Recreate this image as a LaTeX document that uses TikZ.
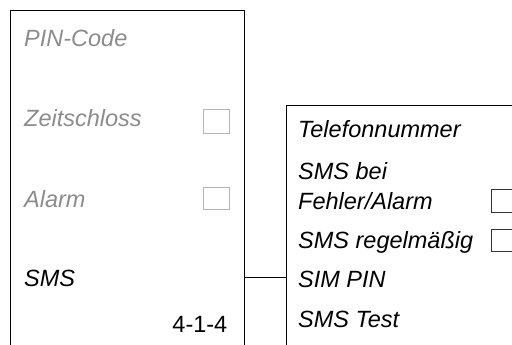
\documentclass[tikz,border=0pt]{standalone}
\usepackage{fontspec}
\setmainfont{Liberation Sans}
\definecolor{menugrey}{HTML}{8C8C8C}
\definecolor{boxgrey}{HTML}{B4B4B4}
\newcommand{\menufont}{\fontsize{23.5}{27}\selectfont}
\tikzset{
    entry/.style = {anchor = base west, inner sep = 0pt, font = \menufont\itshape},
    inactive/.style = {entry, text = menugrey},
    tickbox/.style = {draw = #1, line width = 1pt, minimum width = 25.5pt, anchor = north west, inner sep = 0pt},
}
\begin{document}
\begin{tikzpicture}[x = 1pt, y = -1pt, font = \menufont]
        \useasboundingbox (0, 0) rectangle (512, 345);
        % menu 4-1
        \draw[line width = 1pt] (10, 345) -- (10, 11) -- (244.5, 11) -- (244.5, 345);
        \node[inactive] (pin) at (24, 47) {PIN-Code};
        \node[inactive] (zeit) at (24, 127) {Zeitschloss};
        \node[inactive] (alarm) at (24, 207) {Alarm};
        \node[entry] (sms) at (24, 286) {SMS};
        \node[anchor = base east, inner sep = 0pt] (code) at (227.5, 332) {4-1-4};
        \node[tickbox = boxgrey, minimum height = 24pt] (zeitbox) at (203, 109.5) {};
        \node[tickbox = boxgrey, minimum height = 22pt] (alarmbox) at (203, 187) {};
        % menu 4-1-4
        \draw[line width = 1pt] (286.5, 345) -- (286.5, 106) -- (520, 106);
        \foreach \y/\name/\lab in {138/tel/Telefonnummer, 179/bei/SMS bei, 209/fehler/{Fehler/Alarm}, 248/regel/SMS regelmäßig, 287/simpin/SIM PIN, 327/test/SMS Test}{
            \node[entry] (\name) at (298, \y) {\lab};
        }
        \node[tickbox = black!80, minimum height = 23pt] (fehlerbox) at (490.5, 189) {};
        \node[tickbox = black!80, minimum height = 22pt] (regelbox) at (490.5, 229) {};
        % link
        \coordinate (smsout) at (244.5, 277);
        \coordinate (subin) at (286.5, 277);
        \draw[line width = 1pt] (smsout) -- (subin);
    \end{tikzpicture}
\end{document}
